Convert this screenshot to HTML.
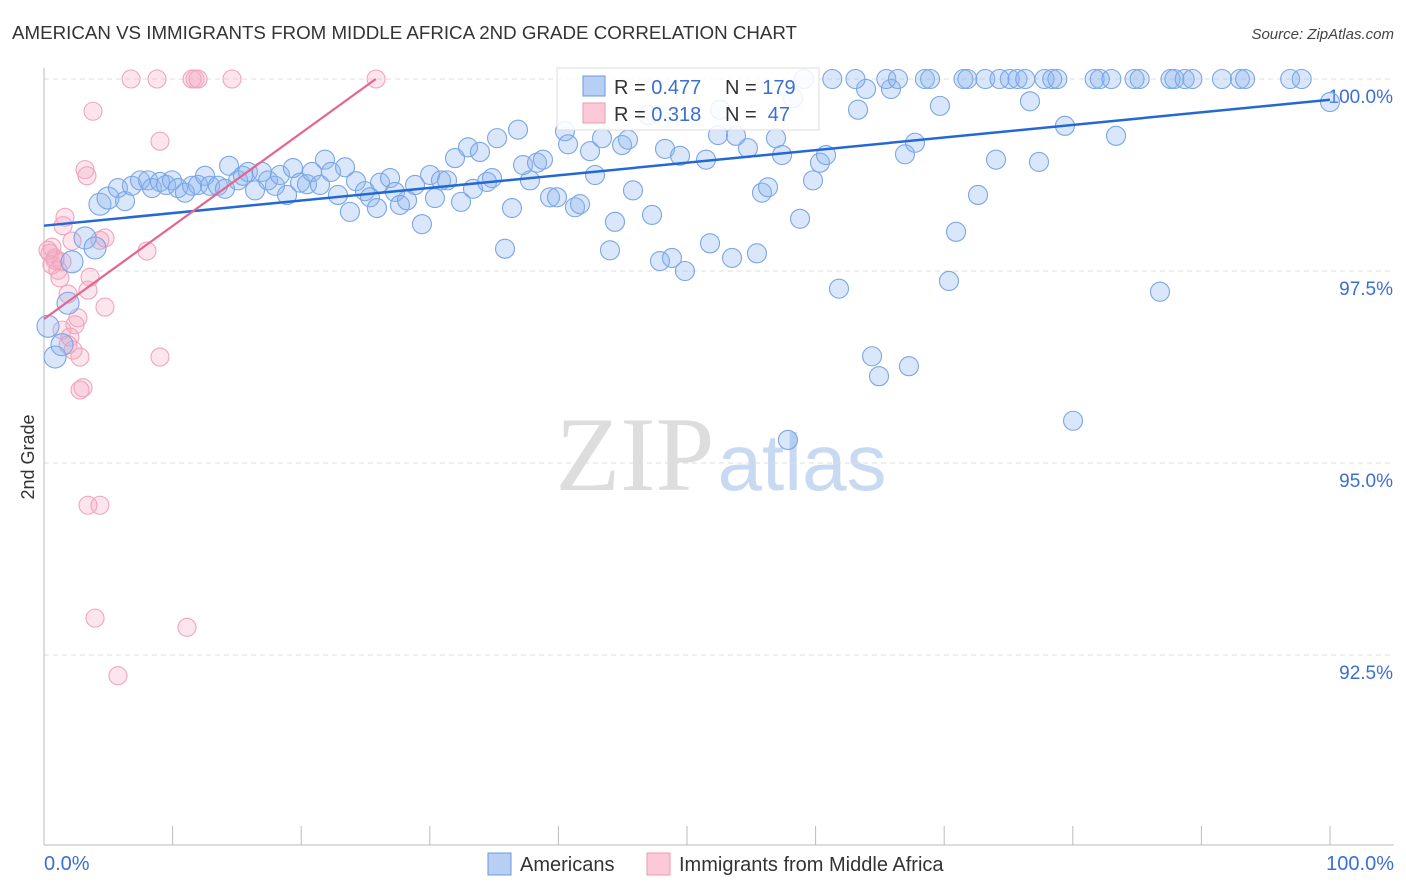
<!DOCTYPE html>
<html><head><meta charset="utf-8"><style>
body{margin:0;background:#fff;font-family:"Liberation Sans",sans-serif;}
#wrap{position:relative;width:1406px;height:892px;overflow:hidden;}
</style></head><body>
<div id="wrap">
<svg id="svg" width="1406" height="892" xmlns="http://www.w3.org/2000/svg">
<text x="12" y="39" font-size="18" fill="#333" textLength="785" lengthAdjust="spacingAndGlyphs">AMERICAN VS IMMIGRANTS FROM MIDDLE AFRICA 2ND GRADE CORRELATION CHART</text>
<text x="1394" y="39" font-size="15" fill="#444" font-style="italic" text-anchor="end">Source: ZipAtlas.com</text>
<text x="34" y="457" font-size="18" fill="#333" text-anchor="middle" transform="rotate(-90 34 457)">2nd Grade</text>
<g>
<text x="635" y="490" font-size="106" fill="#ddd" font-family="Liberation Serif,serif" text-anchor="middle">ZIP</text>
<text x="802" y="490" font-size="80" fill="#c8daf2" text-anchor="middle">atlas</text>
</g>
<g id="grid"></g><g id="axes"></g><g id="pts"></g><g id="trend"></g>
<g>
<rect x="557" y="68" width="262" height="62" fill="#fff" fill-opacity="0.85" stroke="#ddd"/>
<rect x="583" y="76" width="22" height="20" fill="#b7cff3" stroke="#6a9ae0"/>
<rect x="583" y="103" width="22" height="20" fill="#fbc9d7" stroke="#ec9ab2"/>
<text x="614" y="94" font-size="20" fill="#333">R = <tspan fill="#3b6fd4">0.477</tspan></text>
<text x="725" y="94" font-size="20" fill="#333">N = <tspan fill="#3b6fd4">179</tspan></text>
<text x="614" y="121" font-size="20" fill="#333">R = <tspan fill="#3b6fd4">0.318</tspan></text>
<text x="725" y="121" font-size="20" fill="#333">N = <tspan fill="#3b6fd4">&#160;47</tspan></text>
</g>
<g>
<rect x="488" y="853" width="23" height="22" fill="#b7cff3" stroke="#6a9ae0"/>
<text x="520" y="871" font-size="20" fill="#333">Americans</text>
<rect x="647" y="853" width="23" height="22" fill="#fbc9d7" stroke="#ec9ab2"/>
<text x="679" y="871" font-size="20" fill="#333">Immigrants from Middle Africa</text>
</g>
</svg>
</div>
<script>
const blueX=[0.86,1.40,0.31,1.87,2.18,3.19,3.97,4.35,4.98,5.75,6.30,6.84,7.47,8.09,8.40,9.02,9.49,9.95,10.42,10.96,11.51,11.98,12.52,12.91,13.53,14.07,14.39,15.09,15.47,15.86,16.41,16.95,17.42,17.96,18.35,18.90,19.36,19.91,20.45,20.84,21.46,21.85,22.32,22.86,23.41,23.79,24.26,24.96,25.35,25.89,26.13,26.91,27.29,27.68,28.23,28.85,29.39,30.02,30.40,30.87,31.34,31.96,32.43,32.97,33.36,33.90,34.45,34.84,35.23,35.85,36.39,36.86,37.25,37.79,38.34,38.80,39.35,39.89,40.51,40.75,41.29,41.68,42.46,42.85,43.39,44.01,44.40,44.95,45.41,45.80,47.28,47.90,48.29,48.83,49.46,49.84,51.48,51.79,52.41,53.50,53.81,54.74,55.44,55.83,56.30,56.92,57.39,57.85,58.79,59.80,60.34,60.81,61.82,63.30,63.92,64.39,64.93,65.86,66.95,67.26,67.73,69.67,70.37,70.92,72.63,74.03,76.67,77.37,79.39,80.02,83.36,86.78,100.0,58.24,46.97,52.57,
59.1,61.3,63.1,65.5,66.4,68.5,68.9,71.5,71.8,73.2,74.3,75.1,75.7,76.3,77.8,78.4,78.8,81.7,82.1,83.0,84.8,85.2,87.6,87.9,88.7,89.3,91.6,93.0,93.4,96.9,97.8];
const blueY=[96.38,96.54,96.78,97.08,97.62,97.93,97.80,98.37,98.45,98.58,98.41,98.61,98.68,98.68,98.58,98.66,98.62,98.68,98.58,98.52,98.61,98.62,98.74,98.61,98.61,98.57,98.87,98.68,98.74,98.79,98.55,98.79,98.68,98.61,98.75,98.49,98.84,98.65,98.63,98.79,98.62,98.95,98.79,98.49,98.85,98.27,98.67,98.54,98.46,98.32,98.65,98.71,98.53,98.36,98.42,98.62,98.11,98.75,98.45,98.68,98.68,98.97,98.40,99.11,98.57,99.05,98.66,98.71,99.23,97.79,98.32,99.34,98.88,98.68,98.91,98.95,98.46,98.46,99.32,99.15,98.33,98.37,99.06,98.75,99.23,97.77,98.14,99.14,99.21,98.55,98.23,97.63,99.09,97.67,99.00,97.50,98.95,97.86,99.27,97.67,99.26,99.10,97.73,98.52,98.59,99.23,99.01,95.30,98.18,98.68,98.91,99.01,97.27,99.60,99.87,96.39,96.13,99.87,99.02,96.26,99.17,99.65,97.37,98.01,98.49,98.95,99.71,98.92,99.39,95.55,99.26,97.23,99.70,99.75,99.53,99.60,
100,100,100,100,100,100,100,100,100,100,100,100,100,100,100,100,100,100,100,100,100,100,100,100,100,100,100,100,100,100,100];
const pinkX=[6.77,8.79,11.51,11.74,11.98,14.62,25.82,3.81,9.02,3.19,3.34,1.63,1.48,2.18,4.35,4.74,8.01,0.62,0.47,0.86,0.62,1.09,1.24,3.58,3.42,1.87,4.74,2.64,2.41,1.40,2.02,1.87,2.26,2.80,9.02,3.03,2.80,3.42,4.35,3.97,11.12,5.75,0.86,1.40,0.31];
const pinkY=[100,100,100,100,100,100,100,99.58,99.19,98.82,98.74,98.20,98.09,97.89,97.90,97.93,97.76,97.81,97.73,97.67,97.58,97.51,97.41,97.42,97.25,97.20,97.03,96.89,96.80,96.73,96.64,96.54,96.47,96.38,96.38,95.98,95.95,94.45,94.45,92.98,92.86,92.23,97.64,97.62,97.77];
const yTicks=[100,97.5,95,92.5];
const yTickLabels=["100.0%","97.5%","95.0%","92.5%"];
const blueTrend=[[0,98.09],[100,99.73]];
const pinkTrend=[[0,96.875],[25.8,100]];

const NS="http://www.w3.org/2000/svg";
const xs=v=>44+v*12.86;
const ys=v=>79+(100-v)*76.8;
function mk(t,a,p){const e=document.createElementNS(NS,t);for(const k in a)e.setAttribute(k,a[k]);p.appendChild(e);return e;}
const grid=document.getElementById('grid'),axes=document.getElementById('axes'),pts=document.getElementById('pts'),trend=document.getElementById('trend');
yTicks.forEach((t,i)=>{
  const l=mk('line',{x1:44,x2:1394,y1:ys(t),y2:ys(t),stroke:'#ddd','stroke-dasharray':'5,4'},grid);
  
  
  const tx=mk('text',{x:1393,y:ys(t)+24,'font-size':19,fill:'#3b6fd4','text-anchor':'end'},axes);
  tx.textContent=yTickLabels[i];
  
  
});
let a=mk('line',{x1:44,x2:44,y1:68,y2:845,stroke:'#bbb'},axes);


a=mk('line',{x1:44,x2:1394,y1:845,y2:845,stroke:'#bbb'},axes);


for(let i=0;i<=10;i++){
  const t=mk('line',{x1:xs(i*10),x2:xs(i*10),y1:826,y2:845,stroke:'#bbb'},axes);
  
  
}
let xl=mk('text',{x:44,y:870,'font-size':20,fill:'#3b6fd4'},axes);xl.textContent='0.0%';


xl=mk('text',{x:1394,y:870,'font-size':20,fill:'#3b6fd4','text-anchor':'end'},axes);xl.textContent='100.0%';


pinkX.forEach((x,i)=>{
  const c=mk('circle',{cx:xs(x),cy:ys(pinkY[i]),r:9,fill:'rgba(246,170,195,0.3)',stroke:'#f0a4bb','stroke-width':1.1},pts);
  
  
});
blueX.forEach((x,i)=>{
  const r=x<5?11:9.5;
  const c=mk('circle',{cx:xs(x),cy:ys(blueY[i]),r:r,fill:'rgba(140,180,240,0.32)',stroke:'#7aa6e6','stroke-width':1.1},pts);
  
  
});
let tl=mk('line',{x1:xs(blueTrend[0][0]),y1:ys(blueTrend[0][1]),x2:xs(blueTrend[1][0]),y2:ys(blueTrend[1][1]),stroke:'#2468d4','stroke-width':2.5},trend);


tl=mk('line',{x1:xs(pinkTrend[0][0]),y1:ys(pinkTrend[0][1]),x2:xs(pinkTrend[1][0]),y2:ys(pinkTrend[1][1]),stroke:'#e4668f','stroke-width':2.2},trend);


</script>
</body></html>
